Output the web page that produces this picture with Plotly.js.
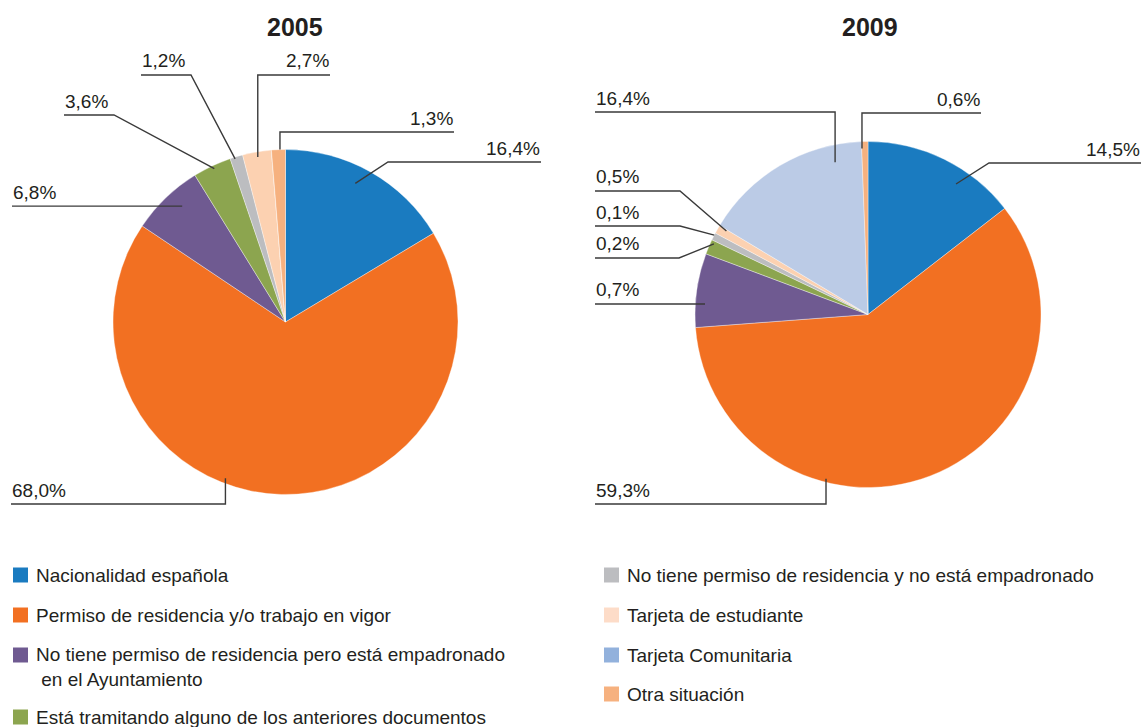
<!DOCTYPE html>
<html>
<head>
<meta charset="utf-8">
<script src="https://cdn.plot.ly/plotly-3.0.1.min.js"></script>
<style>html,body{margin:0;padding:0;background:#fff;}#chart{width:1144px;height:727px;}</style>
</head>
<body>
<div id="chart"></div>
<script>
// ---------- DATA ----------
const categories = [
  "Nacionalidad española",
  "Permiso de residencia y/o trabajo en vigor",
  "No tiene permiso de residencia pero está empadronado en el Ayuntamiento",
  "Está tramitando alguno de los anteriores documentos",
  "No tiene permiso de residencia y no está empadronado",
  "Tarjeta de estudiante",
  "Tarjeta Comunitaria",
  "Otra situación"
];
const years = ["2005", "2009"];
const values2005 = [16.4, 68.0, 6.8, 3.6, 1.2, 2.7, 0, 1.3];
const values2009 = [14.5, 59.3, 6.9, 1.4, 0.7, 0.8, 15.8, 0.6];
const labels2005 = ["16,4%", "68,0%", "6,8%", "3,6%", "1,2%", "2,7%", "", "1,3%"];
const labels2009 = ["14,5%", "59,3%", "0,7%", "0,2%", "0,1%", "0,5%", "16,4%", "0,6%"];
const legendLabels = [
  "Nacionalidad española",
  "Permiso de residencia y/o trabajo en vigor",
  "No tiene permiso de residencia pero está empadronado<br> en el Ayuntamiento",
  "Está tramitando alguno de los anteriores documentos",
  "No tiene permiso de residencia y no está empadronado",
  "Tarjeta de estudiante",
  "Tarjeta Comunitaria",
  "Otra situación"
];

// ---------- STYLE / LAYOUT CONFIG ----------
const sliceColors = ["#1a7bc0", "#f27022", "#6f5a91", "#8ca54f", "#bcbdc0", "#fcd1b1", "#bbcbe6", "#f6b17f"];
const legendColors = ["#1a7bc0", "#f27022", "#6f5a91", "#8ca54f", "#bcbdc0", "#fddcc8", "#92b1dc", "#f6b17f"];
const W = 1144, H = 727;
const px = x => x / W;
const py = y => 1 - y / H;
const pies = [
  {cx: 285.5, cy: 322, R: 172.5, titleX: 295},
  {cx: 868, cy: 314.5, R: 173, titleX: 870}
];
// label leader-line layout per slice: angle offset (deg), radius fraction, elbow x (null = vertical), line y (null = horizontal), end x, side
const labelLayout2005 = [
  {dA: -2.8, rf: 0.90, ex: 388, ly: 162, endX: 541, side: "right"},
  {dA: 19.6, rf: 0.97, ex: null, ly: 504, endX: 11, side: "left"},
  {dA: 2.2, rf: 0.90, ex: null, ly: null, endX: 12, side: "left"},
  {dA: 0.3, rf: 0.98, ex: 114, ly: 115, endX: 64, side: "left"},
  {dA: -0.6, rf: 0.99, ex: 191, ly: 75, endX: 141, side: "left"},
  {dA: 0, rf: 0.97, ex: null, ly: 75, endX: 330, side: "right"},
  null,
  {dA: 0.5, rf: 1.0, ex: null, ly: 132, endX: 454, side: "right"}
];
const labelLayout2009 = [
  {dA: 7.9, rf: 0.91, ex: 989, ly: 163, endX: 1141, side: "right"},
  {dA: 35.4, rf: 0.98, ex: null, ly: 504, endX: 595, side: "left"},
  {dA: -4.4, rf: 0.944, ex: null, ly: null, endX: 595, side: "left"},
  {dA: 1.6, rf: 0.98, ex: 679, ly: 258, endX: 595, side: "left"},
  {dA: 0.5, rf: 1.0, ex: 680, ly: 226, endX: 595, side: "left"},
  {dA: 1.0, rf: 0.95, ex: 680, ly: 191, endX: 595, side: "left"},
  {dA: 18.4, rf: 0.90, ex: null, ly: 112, endX: 595, side: "left"},
  {dA: -1.0, rf: 0.96, ex: null, ly: 113, endX: 981, side: "right"}
];
const legendPos = [
  {x: 13, y: 575}, {x: 13, y: 615}, {x: 13, y: 655}, {x: 13, y: 717},
  {x: 604, y: 575}, {x: 604, y: 615}, {x: 604, y: 655}, {x: 604, y: 694}
];
const FONT = "Liberation Sans, Arial, Helvetica, sans-serif";
const TXT = "#231f20";
const LINE = "#3a3a3a";

// ---------- BUILD ----------
const allValues = [values2005, values2009];
const allLabels = [labels2005, labels2009];
const allLayouts = [labelLayout2005, labelLayout2009];

const traces = pies.map((p, i) => ({
  type: "pie",
  labels: categories,
  values: allValues[i],
  sort: false,
  direction: "clockwise",
  rotation: 0,
  textinfo: "none",
  hoverinfo: "label+percent",
  showlegend: false,
  marker: {colors: sliceColors, line: {color: "rgba(255,255,255,0.6)", width: 0.6}},
  domain: {x: [px(p.cx - p.R), px(p.cx + p.R)], y: [py(p.cy + p.R), py(p.cy - p.R)]}
}));

const shapes = [];
const annotations = [];

pies.forEach((p, i) => {
  annotations.push({
    xref: "paper", yref: "paper", x: px(p.titleX), y: py(27),
    xanchor: "center", yanchor: "middle", showarrow: false,
    text: "<b>" + years[i] + "</b>",
    font: {family: FONT, size: 25, color: TXT}
  });
  const vals = allValues[i];
  const total = vals.reduce((a, b) => a + b, 0);
  let cum = 0;
  vals.forEach((v, k) => {
    const start = cum;
    cum += v;
    const cfg = allLayouts[i][k];
    if (!cfg || v === 0) return;
    const mid = ((start + v / 2) / total) * 360 + cfg.dA;
    const rad = mid * Math.PI / 180;
    const ax = p.cx + p.R * cfg.rf * Math.sin(rad);
    const ay = p.cy - p.R * cfg.rf * Math.cos(rad);
    const ly = cfg.ly === null ? ay : cfg.ly;
    const ex = cfg.ex === null ? ax : cfg.ex;
    const path = "M " + px(ax) + "," + py(ay) + " L " + px(ex) + "," + py(ly) + " L " + px(cfg.endX) + "," + py(ly);
    shapes.push({type: "path", xref: "paper", yref: "paper", path: path, line: {color: LINE, width: 1.4}});
    annotations.push({
      xref: "paper", yref: "paper", x: px(cfg.endX), y: py(ly - 14),
      xanchor: cfg.side, yanchor: "middle", showarrow: false,
      text: allLabels[i][k], borderpad: 0,
      font: {family: FONT, size: 19, color: TXT}
    });
  });
});

legendLabels.forEach((t, k) => {
  const lp = legendPos[k];
  shapes.push({
    type: "rect", xref: "paper", yref: "paper",
    x0: px(lp.x), x1: px(lp.x + 15), y0: py(lp.y + 7.5), y1: py(lp.y - 7.5),
    fillcolor: legendColors[k], line: {width: 0}
  });
  const multi = t.indexOf("<br>") >= 0;
  annotations.push({
    xref: "paper", yref: "paper", x: px(lp.x + 22), y: py(lp.y - (multi ? 12 : 0)),
    xanchor: "left", yanchor: multi ? "top" : "middle", align: "left", showarrow: false,
    text: t, borderpad: 0,
    font: {family: FONT, size: 19, color: TXT}
  });
});

const layout = {
  width: W, height: H,
  margin: {l: 0, r: 0, t: 0, b: 0},
  paper_bgcolor: "#ffffff",
  plot_bgcolor: "#ffffff",
  showlegend: false,
  shapes: shapes,
  annotations: annotations,
  font: {family: FONT}
};

Plotly.newPlot("chart", traces, layout, {displayModeBar: false, staticPlot: true});
</script>
</body>
</html>
